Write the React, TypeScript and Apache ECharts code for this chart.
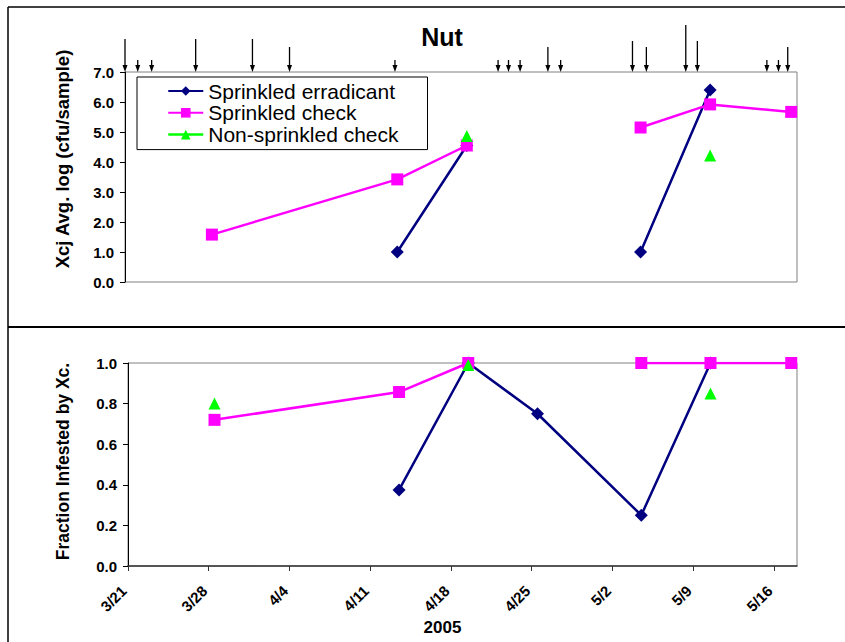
import React, { useEffect, useRef } from "react";
import * as echarts from "echarts";

// ---- data ----
const xTickLabels = ["3/21", "3/28", "4/4", "4/11", "4/18", "4/25", "5/2", "5/9", "5/16"];
const sampleDates = ["3/28", "4/13", "4/19", "4/25", "5/4", "5/10", "5/17"];

const seriesNames = ["Sprinkled erradicant", "Sprinkled check", "Non-sprinkled check"];

// log cfu/sample (top panel)
const erradicantLog = [null, 1.0, 4.55, null, 1.0, 6.4, null];
const checkLog = [1.58, 3.42, 4.55, null, 5.15, 5.92, 5.67];
const nonSprinkledLog = [null, null, 4.87, null, null, 4.22, null];

// fraction infested (bottom panel)
const erradicantFrac = [null, 0.375, 1.0, 0.75, 0.25, 1.0, null];
const checkFrac = [0.72, 0.857, 1.0, null, 1.0, 1.0, 1.0];
const nonSprinkledFrac = [0.8, null, 0.99, null, null, 0.85, null];

// event arrows above the top panel (days since 3/21, relative size)
const arrowDays = [0, 1.1, 2.3, 6.1, 11.0, 14.2, 23.3, 32.2, 33.1, 34.1, 36.5, 37.6, 43.8, 45.0, 48.4, 49.4, 55.4, 56.4, 57.2];
const arrowSizes = [33, 12, 12, 33, 33, 25, 12, 12, 12, 12, 25, 12, 31, 25, 47, 31, 12, 12, 25];

const colors = ["#000080", "#FF00FF", "#00FF00"];
const symbols = ["diamond", "rect", "triangle"];

function dayOffset(md: string): number {
  const [m, d] = md.split("/").map(Number);
  if (m === 3) return d - 21;
  if (m === 4) return 10 + d;
  return 40 + d;
}

const sampleDays = sampleDates.map((s) => dayOffset(s) + 0.5);

function toData(vals: (number | null)[]) {
  return vals.map((v, i) => [sampleDays[i], v == null ? "-" : v]);
}

const FONT = 'Arial, "Liberation Sans", sans-serif';

export default function App() {
  const ref = useRef<HTMLDivElement>(null);
  useEffect(() => {
    document.body.style.margin = "0";
    const chart = echarts.init(ref.current!, null, { renderer: "svg" });

    const mkSeries = (vals: (number | null)[], idx: number, grid: number) => ({
      type: "line",
      name: seriesNames[idx],
      xAxisIndex: grid,
      yAxisIndex: grid,
      data: toData(vals),
      symbol: symbols[idx],
      symbolSize: idx === 0 ? 13 : 12,
      connectNulls: false,
      lineStyle: { color: colors[idx], width: idx === 2 ? 0 : 2.5, opacity: idx === 2 ? 0 : 1 },
      itemStyle: { color: colors[idx] },
      z: 3 + idx,
    });

    const yAxisBase = {
      type: "value",
      splitLine: { show: false },
      axisLine: { show: true, lineStyle: { color: "#000", width: 1 } },
      axisTick: { show: true, length: 5, lineStyle: { color: "#000" } },
      axisLabel: {
        color: "#000",
        fontWeight: "bold",
        fontSize: 15,
        fontFamily: FONT,
        margin: 11,
        formatter: (v: number) => v.toFixed(1),
      },
      nameLocation: "middle",
      nameRotate: 90,
    };

    chart.setOption({
      animation: false,
      title: {
        text: "Nut",
        left: 437,
        top: 19,
        textAlign: "center",
        textStyle: { fontSize: 25, fontWeight: "bold", color: "#000", fontFamily: FONT },
      },
      legend: {
        orient: "vertical",
        left: 137,
        top: 77,
        backgroundColor: "#fff",
        borderColor: "#000",
        borderWidth: 1,
        borderRadius: 0,
        padding: [3.5, 29, 4.5, 30],
        itemWidth: 35,
        itemHeight: 12,
        itemGap: 0.8,
        textStyle: { fontSize: 21, color: "#000", fontFamily: FONT, lineHeight: 21 },
        data: [
          { name: seriesNames[0] },
          { name: seriesNames[1] },
          { name: seriesNames[2], lineStyle: { color: colors[2], width: 2.5, opacity: 1 } },
        ],
      },
      grid: [
        { left: 125, right: 48, top: 72, height: 210, show: true, borderColor: "#808080", borderWidth: 1, backgroundColor: "transparent" },
        { left: 128, right: 48, top: 363, height: 203, show: true, borderColor: "#808080", borderWidth: 1, backgroundColor: "transparent" },
        { left: 125, right: 48, top: 22, height: 50 },
      ],
      xAxis: [
        { type: "value", gridIndex: 0, min: 0, max: 58, interval: 7, axisLine: { show: false }, axisTick: { show: false }, axisLabel: { show: false }, splitLine: { show: false } },
        {
          type: "value",
          gridIndex: 1,
          min: 0,
          max: 58,
          interval: 7,
          splitLine: { show: false },
          axisLine: { show: true, lineStyle: { color: "#333", width: 1.5 } },
          axisTick: { show: true, length: 5, lineStyle: { color: "#333" } },
          axisLabel: {
            rotate: 45,
            color: "#000",
            fontWeight: "bold",
            fontSize: 15,
            fontFamily: FONT,
            margin: 18,
            padding: [0, 6, 0, 0],
            showMaxLabel: false,
            formatter: (v: number) => xTickLabels[Math.round(v / 7)] ?? "",
          },
          name: "2005",
          nameLocation: "middle",
          nameGap: 53,
          nameTextStyle: { color: "#000", fontWeight: "bold", fontSize: 17, fontFamily: FONT, padding: [0, 40, 0, 0] },
        },
        { type: "value", gridIndex: 2, min: 0, max: 58, show: false },
      ],
      yAxis: [
        {
          ...yAxisBase,
          gridIndex: 0,
          min: 0,
          max: 7,
          interval: 1,
          name: "Xcj Avg. log (cfu/sample)",
          nameGap: 53,
          nameTextStyle: { color: "#000", fontWeight: "bold", fontSize: 18.5, fontFamily: FONT, padding: [0, 0, 0, 36] },
        },
        {
          ...yAxisBase,
          gridIndex: 1,
          min: 0,
          max: 1,
          interval: 0.2,
          name: "Fraction Infested by Xc.",
          nameGap: 56,
          nameTextStyle: { color: "#000", fontWeight: "bold", fontSize: 17.5, fontFamily: FONT, padding: [0, 0, 0, 6] },
        },
        { type: "value", gridIndex: 2, min: 0, max: 50, show: false },
      ],
      graphic: [
        { type: "line", shape: { x1: 8, y1: 7, x2: 845, y2: 7 }, style: { stroke: "#000", lineWidth: 1.5 } },
        { type: "line", shape: { x1: 8, y1: 7, x2: 8, y2: 642 }, style: { stroke: "#000", lineWidth: 1.5 } },
        { type: "line", shape: { x1: 8, y1: 327, x2: 845, y2: 327 }, style: { stroke: "#000", lineWidth: 2 } },
      ],
      series: [
        mkSeries(erradicantLog, 0, 0),
        mkSeries(checkLog, 1, 0),
        mkSeries(nonSprinkledLog, 2, 0),
        mkSeries(erradicantFrac, 0, 1),
        mkSeries(checkFrac, 1, 1),
        mkSeries(nonSprinkledFrac, 2, 1),
        {
          type: "custom",
          xAxisIndex: 2,
          yAxisIndex: 2,
          clip: false,
          silent: true,
          data: arrowDays.map((d, i) => [d, arrowSizes[i]]),
          renderItem: (params: any, api: any) => {
            const top = api.coord([api.value(0), api.value(1)]);
            const base = api.coord([api.value(0), 0]);
            return {
              type: "group",
              children: [
                { type: "line", shape: { x1: top[0], y1: top[1], x2: base[0], y2: base[1] - 5 }, style: { stroke: "#000", lineWidth: 1.3 } },
                {
                  type: "polygon",
                  shape: { points: [[base[0] - 2.5, base[1] - 7], [base[0] + 2.5, base[1] - 7], [base[0], base[1]]] },
                  style: { fill: "#000" },
                },
              ],
            };
          },
        },
      ],
    });
    return () => chart.dispose();
  }, []);
  return <div ref={ref} style={{ width: 845, height: 642 }} />;
}
